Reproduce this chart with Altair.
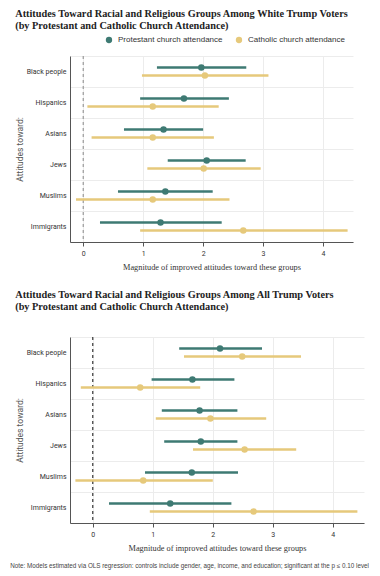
import altair as alt
import pandas as pd

groups = ["Black people", "Hispanics", "Asians", "Jews", "Muslims", "Immigrants"]
series = ["Protestant church attendance", "Catholic church attendance"]

# White Trump voters
white_prot_est = [1.97, 1.68, 1.34, 2.06, 1.37, 1.29]
white_prot_lo = [1.23, 0.95, 0.68, 1.41, 0.58, 0.28]
white_prot_hi = [2.72, 2.43, 2.00, 2.71, 2.16, 2.31]
white_cath_est = [2.03, 1.16, 1.16, 2.01, 1.16, 2.67]
white_cath_lo = [0.98, 0.07, 0.14, 1.07, -0.12, 0.95]
white_cath_hi = [3.09, 2.26, 2.18, 2.96, 2.44, 4.41]

# All Trump voters
all_prot_est = [2.12, 1.66, 1.78, 1.80, 1.65, 1.29]
all_prot_lo = [1.44, 0.98, 1.15, 1.19, 0.87, 0.27]
all_prot_hi = [2.82, 2.36, 2.41, 2.41, 2.42, 2.31]
all_cath_est = [2.49, 0.79, 1.96, 2.53, 0.84, 2.68]
all_cath_lo = [1.52, -0.20, 1.05, 1.67, -0.29, 0.95]
all_cath_hi = [3.47, 1.79, 2.89, 3.39, 2.00, 4.41]

x_ticks = [0, 1, 2, 3, 4]

title_top = ["Attitudes Toward Racial and Religious Groups Among White Trump Voters",
             "(by Protestant and Catholic Church Attendance)"]
title_bottom = ["Attitudes Toward Racial and Religious Groups Among All Trump Voters",
                "(by Protestant and Catholic Church Attendance)"]
x_title = "Magnitude of improved attitudes toward these groups"
y_title = "Attitudes toward:"
note = "Note: Models estimated via OLS regression: controls include gender, age, income, and education; significant at the p \u2264 0.10 level"

TEAL = "#3e7a73"
GOLD = "#e6c97b"


def make_df(pe, pl, ph, ce, cl, ch):
    rows = []
    for i, g in enumerate(groups):
        rows.append({"group": g, "series": series[0], "est": pe[i], "lo": pl[i], "hi": ph[i]})
        rows.append({"group": g, "series": series[1], "est": ce[i], "lo": cl[i], "hi": ch[i]})
    return pd.DataFrame(rows)


def panel(df, title, xdomain, width, zero_color):
    y = alt.Y("group:N", sort=groups, title=y_title,
              scale=alt.Scale(paddingInner=0, paddingOuter=0),
              axis=alt.Axis(tickBand="extent", ticks=False, grid=True, gridColor="#ececec",
                            domainColor="#555555", labelFont="Roboto", labelFontSize=7,
                            labelColor="#333333", labelPadding=4, titleFont="Roboto",
                            titleFontSize=8.5, titleFontWeight="normal", titleColor="#555555",
                            titlePadding=2))
    x = alt.X("lo:Q", title=x_title,
              scale=alt.Scale(domain=xdomain, nice=False, zero=False),
              axis=alt.Axis(values=x_ticks, format="d", grid=True, gridColor="#ececec",
                            domainColor="#555555", tickColor="#555555", tickSize=4,
                            labelFont="Roboto", labelFontSize=7, labelColor="#333333",
                            labelPadding=3, titleFont="Liberation Serif", titleFontSize=8.3,
                            titleFontWeight="normal", titleColor="#333333", titlePadding=6))
    yoff = alt.YOffset("series:N", sort=series,
                       scale=alt.Scale(paddingInner=0, paddingOuter=0.9375))
    color = alt.Color("series:N", sort=series,
                      scale=alt.Scale(domain=series, range=[TEAL, GOLD]),
                      legend=alt.Legend(title=None, orient="none", direction="horizontal",
                                        legendX=35, legendY=-20, symbolType="circle",
                                        symbolSize=40, symbolStrokeWidth=0, labelFont="Liberation Sans",
                                        labelFontSize=8, labelColor="#333333",
                                        columnPadding=12, labelOffset=5))
    base = alt.Chart(df)
    zero = alt.Chart(pd.DataFrame({"v": [0]})).mark_rule(
        strokeDash=[3, 3], color=zero_color, strokeWidth=1).encode(x="v:Q")
    rules = base.mark_rule(strokeWidth=2.5).encode(x=x, x2="hi:Q", y=y, yOffset=yoff, color=color)
    pts = base.mark_circle(size=42, opacity=1).encode(
        x="est:Q", y=y, yOffset=yoff, color=color)
    return alt.layer(zero, rules, pts).properties(
        width=width, height=186,
        title=alt.TitleParams(text=title, anchor="start", frame="bounds",
                              font="Liberation Serif", fontSize=10.3, fontWeight="bold",
                              color="#222222", lineHeight=12, offset=21))


top = panel(make_df(white_prot_est, white_prot_lo, white_prot_hi,
                    white_cath_est, white_cath_lo, white_cath_hi),
            title_top, [-0.22, 4.5], 283, "#888888")
bottom = panel(make_df(all_prot_est, all_prot_lo, all_prot_hi,
                       all_cath_est, all_cath_lo, all_cath_hi),
               title_bottom, [-0.38, 4.52], 294, "#111111")

chart = alt.vconcat(top, bottom, spacing=18).properties(
    title=alt.TitleParams(text=note, orient="bottom", anchor="middle",
                          font="Liberation Sans", fontSize=6.3, fontWeight="normal",
                          color="#444444", offset=12)
).resolve_scale(x="independent").configure(
    padding={"left": 2, "top": 0, "right": 0, "bottom": 0}
).configure_view(stroke=None)

chart.save("out.html", embed_options={"renderer": "svg", "actions": False})
